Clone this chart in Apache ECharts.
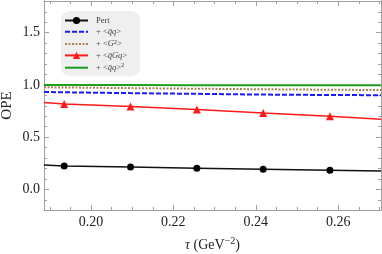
<!DOCTYPE html>
<html><head><meta charset="utf-8">
<script src="https://cdn.jsdelivr.net/npm/echarts@6/dist/echarts.min.js"></script>
<style>html,body{margin:0;padding:0;background:#fff}#c{width:382px;height:254px}</style>
</head><body><div id="c"></div>
<script>
// x positions (tau, GeV^-2) where values are read
var tau = [0.1886, 0.1935, 0.2096, 0.2257, 0.2418, 0.2580, 0.2704];
var markerIdx = [1, 2, 3, 4, 5];
var pert   = [0.233, 0.224, 0.214, 0.202, 0.192, 0.183, 0.176];
var qq     = [0.932, 0.929, 0.921, 0.914, 0.907, 0.903, 0.901];
var G2     = [0.977, 0.975, 0.969, 0.963, 0.958, 0.953, 0.951];
var qGq    = [0.831, 0.817, 0.792, 0.764, 0.731, 0.700, 0.671];
var qq2    = [0.998, 0.998, 0.998, 0.997, 0.997, 0.997, 0.997];
var names  = ['Pert', '+ <q\u0304q>', '+ <G\u00b2>', '+ <q\u0304Gq>', '+ <q\u0304q>\u00b2'];
var labelsRich = ['Pert', '+ <{i|q\u0304q}>', '+ <{i|G}{s|2}>', '+ <{i|q\u0304Gq}>', '+ <{i|q\u0304q}>{s|2}'];
var xMajor = [0.20, 0.22, 0.24, 0.26];
var xMinor = [0.19, 0.195, 0.205, 0.21, 0.215, 0.225, 0.23, 0.235, 0.245, 0.25, 0.255, 0.265, 0.27];
var yMajor = [0.0, 0.5, 1.0, 1.5];
var yMinor = [-0.1, 0.1, 0.2, 0.3, 0.4, 0.6, 0.7, 0.8, 0.9, 1.1, 1.2, 1.3, 1.4, 1.6, 1.7, 1.8];

var X0 = 0.1886, X1 = 0.2704, Y0 = -0.198, Y1 = 1.803;
var serif = 'Liberation Serif';
var axisCol = '#a0a0a0';

function pts(vals, withMarkers) {
  return tau.map(function (t, i) {
    var o = {value: [t, vals[i]]};
    if (!withMarkers || markerIdx.indexOf(i) < 0) o.symbol = 'none';
    return o;
  });
}
function xAx(pos, custom, len, labels, extra) {
  var a = {type: 'value', min: X0, max: X1, position: pos,
    axisLine: {show: true, onZero: false, lineStyle: {color: axisCol, width: 1}},
    axisTick: {show: true, inside: true, length: len, customValues: custom, lineStyle: {color: axisCol}},
    axisLabel: {show: labels, customValues: custom, color: '#222', fontFamily: serif, fontSize: 14, margin: 5,
      formatter: function (v) { return v.toFixed(2); }},
    splitLine: {show: false}};
  return Object.assign(a, extra || {});
}
function yAx(pos, custom, len, labels, extra) {
  var a = {type: 'value', min: Y0, max: Y1, position: pos,
    axisLine: {show: true, onZero: false, lineStyle: {color: axisCol, width: 1}},
    axisTick: {show: true, inside: true, length: len, customValues: custom, lineStyle: {color: axisCol}},
    axisLabel: {show: labels, customValues: custom, color: '#222', fontFamily: serif, fontSize: 14, margin: 4,
      formatter: function (v) { return v.toFixed(1); }},
    splitLine: {show: false}};
  return Object.assign(a, extra || {});
}
var hideSym = {color: 'rgba(0,0,0,0)', borderWidth: 0, opacity: 0};

var chart = echarts.init(document.getElementById('c'), null, {renderer: 'canvas'});
chart.setOption({
  animation: false,
  backgroundColor: '#fff',
  grid: {left: 44, right: 1, top: 1, bottom: 44, containLabel: false, outerBoundsMode: 'none'},
  xAxis: [
    xAx('bottom', xMajor, 5, true, {name: '{t|\u03c4} (GeV{s|\u22122})', nameLocation: 'middle', nameGap: 26,
      nameMoveOverlap: false,
      nameTextStyle: {fontFamily: serif, fontSize: 14, color: '#222',
        rich: {t: {fontFamily: serif, fontSize: 14, fontStyle: 'italic', color: '#222'},
               s: {fontFamily: serif, fontSize: 10, verticalAlign: 'top', padding: [0, 0, 8, 0], color: '#222'}}}}),
    xAx('bottom', xMinor, 3, false),
    xAx('top', xMajor, 5, false),
    xAx('top', xMinor, 3, false)
  ],
  yAxis: [
    yAx('left', yMajor, 5, true, {name: 'OPE', nameLocation: 'middle', nameGap: 29, nameRotate: 90,
      nameMoveOverlap: false,
      nameTextStyle: {fontFamily: serif, fontSize: 15, color: '#222'}}),
    yAx('left', yMinor, 3, false),
    yAx('right', yMajor, 5, false),
    yAx('right', yMinor, 3, false)
  ],
  legend: {
    orient: 'vertical', left: 61, top: 11, padding: [5, 13, 4, 3], itemGap: 2.3,
    itemWidth: 23, itemHeight: 9,
    backgroundColor: '#efefef', borderRadius: 9,
    formatter: function (n) { return labelsRich[names.indexOf(n)]; },
    textStyle: {fontFamily: serif, fontSize: 8.5, color: '#444', padding: [0, 0, 0, 3],
      rich: {i: {fontFamily: serif, fontSize: 8.5, fontStyle: 'italic', color: '#444'},
             s: {fontFamily: serif, fontSize: 6.5, verticalAlign: 'top', padding: [0, 0, 4, 0], color: '#444'}}},
    data: [
      {name: names[0]},
      {name: names[1], itemStyle: hideSym},
      {name: names[2], itemStyle: hideSym},
      {name: names[3]},
      {name: names[4], itemStyle: hideSym}
    ]
  },
  series: [
    {name: names[0], type: 'line', data: pts(pert, true), symbol: 'circle', symbolSize: 7,
      itemStyle: {color: '#000'}, lineStyle: {color: '#111', width: 1.5}},
    {name: names[1], type: 'line', data: pts(qq, false), symbol: 'none',
      itemStyle: {color: '#1a1aff'}, lineStyle: {color: '#1a1aff', width: 2, type: [5, 2]}},
    {name: names[2], type: 'line', data: pts(G2, false), symbol: 'none',
      itemStyle: {color: '#a8835a'}, lineStyle: {color: '#a8835a', width: 2, type: [2, 1.5]}},
    {name: names[3], type: 'line', data: pts(qGq, true), symbol: 'triangle', symbolSize: 8,
      itemStyle: {color: '#ff1a1a'}, lineStyle: {color: '#ff1a1a', width: 1.5}},
    {name: names[4], type: 'line', data: pts(qq2, false), symbol: 'none',
      itemStyle: {color: '#1ca01c'}, lineStyle: {color: '#1ca01c', width: 2}}
  ]
});
</script></body></html>
